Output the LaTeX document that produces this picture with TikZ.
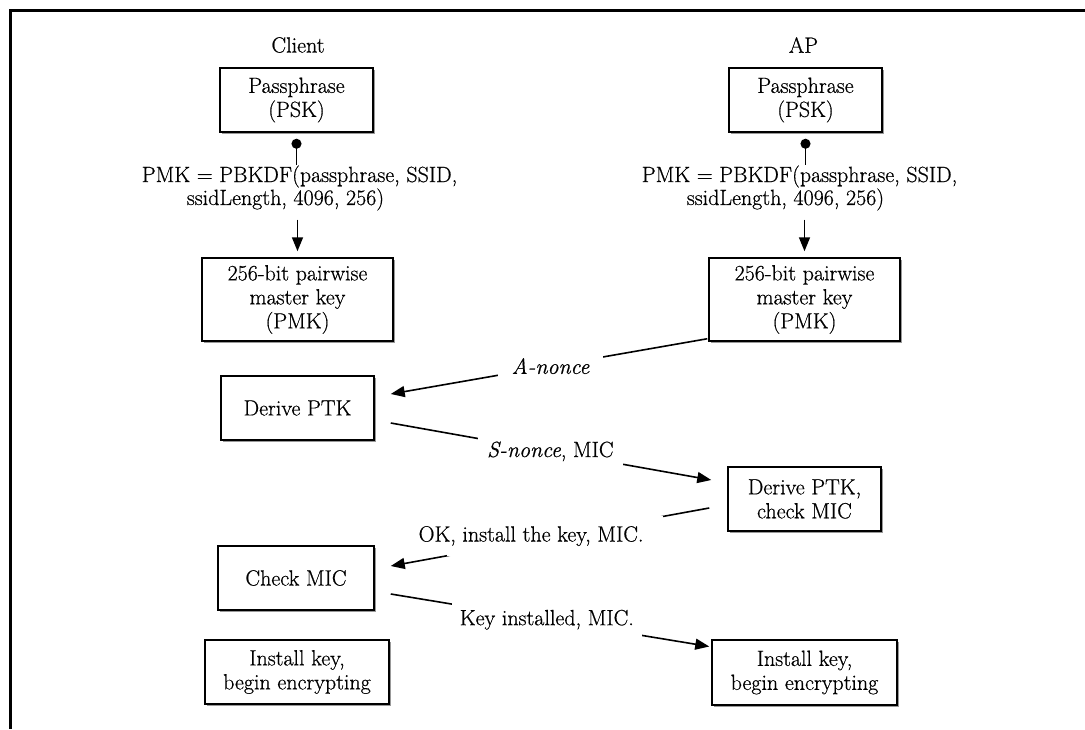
\documentclass[tikz,border=0pt]{standalone}
\usepackage{fontspec}
\newfontfamily\dfont{Latin Modern Roman}[FakeBold=0.6]
\usetikzlibrary{arrows.meta,shadows,calc}
\begin{document}
\begin{tikzpicture}[x=1pt,y=-1pt,
  txt/.style={font=\dfont\fontsize{22}{24}\selectfont, align=center, inner sep=0pt},
  formula/.style={font=\dfont\fontsize{22}{20}\selectfont, align=center, inner sep=0pt},
  box/.style={draw, line width=1.5pt, fill=white, align=center,
    font=\dfont\fontsize{22}{24}\selectfont, inner sep=0pt,
    drop shadow={shadow xshift=2pt, shadow yshift=-2pt, fill=black!40, opacity=1}},
  conn/.style={line width=1.6pt},
  arr/.style={conn, -{Triangle[length=14pt,width=11pt]}},
  lbl/.style={fill=white, font=\dfont\fontsize{22}{24}\selectfont, inner sep=0pt, minimum height=40pt},
]
\fill[white] (0,0) rectangle (1085,729);
\useasboundingbox (0,0) rectangle (1085,729);
\draw[line width=3pt] (1085,10) -- (10,10) -- (10,729);

% column headers
\node[txt] (client) at (298,45) {Client};
\node[txt] (ap) at (803.5,45) {AP};

% boxes
\node[box, minimum width=153pt, minimum height=64pt] (ppc) at (296.5,100) {Passphrase\\(PSK)};
\node[box, minimum width=153pt, minimum height=64pt] (ppa) at (805.5,100) {Passphrase\\(PSK)};

\node[formula] (fc) at (299.5,188) {PMK = PBKDF(passphrase, SSID,\\ssidLength, 4096, 256)\hspace*{28pt}};
\node[formula] (fa) at (799.5,188) {PMK = PBKDF(passphrase, SSID,\\ssidLength, 4096, 256)\hspace*{28pt}};

\node[box, minimum width=191pt, minimum height=83pt] (pmkc) at (297.5,299.5) {256-bit pairwise\\master key\\(PMK)};
\node[box, minimum width=191pt, minimum height=83pt] (pmka) at (804.5,299.5) {256-bit pairwise\\master key\\(PMK)};

\node[box, minimum width=153pt, minimum height=64pt] (dpc) at (297.5,408) {Derive PTK};
\node[box, minimum width=153pt, minimum height=64pt] (dpa) at (804.5,499) {Derive PTK,\\check MIC};
\node[box, minimum width=156pt, minimum height=64pt] (cmc) at (296,578) {Check MIC};
\node[box, minimum width=184pt, minimum height=64pt] (ikc) at (297,672) {Install key,\\begin encrypting};
\node[box, minimum width=185pt, minimum height=65pt] (ika) at (804.5,672.5) {Install key,\\begin encrypting};

% derivation connectors
\draw[conn, {Circle[length=10pt]}-, shorten <=6pt] (ppc.south) -- (ppc.south |- fc.north);
\draw[conn, {Circle[length=10pt]}-, shorten <=6pt] (ppa.south) -- (ppa.south |- fa.north);
\draw[arr, shorten <=9pt, shorten >=6pt] (pmkc.north |- fc.south) -- (pmkc.north);
\draw[arr, shorten <=9pt, shorten >=6pt] (pmka.north |- fa.south) -- (pmka.north);

% handshake messages
\draw[arr] ($(pmka.south west)+(-1,-3)$) --
  node[lbl, pos=0.495, minimum width=105pt] (la) {\textit{A-nonce}}
  ($(dpc.east)+(16,-14)$);
\draw[arr] ($(dpc.east)+(16,15)$) --
  node[lbl, pos=0.498, minimum width=145pt] (ls) {\textit{S-nonce}, MIC}
  ($(dpa.west)+(-16,-19)$);
\draw[arr] ($(dpa.west)+(-18,9)$) --
  node[lbl, pos=0.484, minimum width=216pt] (lo) {\makebox[0pt]{OK, install the key, MIC.\hspace*{48pt}}}
  ($(cmc.east)+(16,-12)$);
\draw[arr] ($(cmc.east)+(16,16)$) --
  node[lbl, pos=0.49, minimum width=190pt] (lk) {Key installed, MIC.}
  ($(ika.west)+(-2,-26)$);
\end{tikzpicture}
\end{document}
